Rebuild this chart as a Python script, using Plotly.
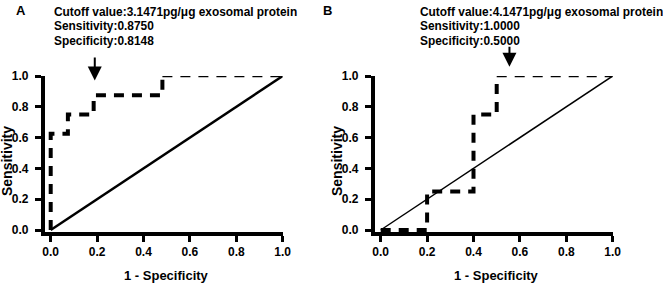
import plotly.graph_objects as go

# ---- data ----
a_fpr = [0, 0, 2/27, 2/27, 5/27, 5/27, 13/27, 13/27]
a_tpr = [0, 0.625, 0.625, 0.75, 0.75, 0.875, 0.875, 1.0]
a_tail_x = [13/27, 1.0]
a_tail_y = [1.0, 1.0]

b_fpr = [0, 0.2, 0.2, 0.4, 0.4, 0.5, 0.5]
b_tpr = [0, 0, 0.25, 0.25, 0.75, 0.75, 1.0]
b_tail_x = [0.5, 1.0]
b_tail_y = [1.0, 1.0]

ref_line = [0, 1]
tick_vals = [0, 0.2, 0.4, 0.6, 0.8, 1.0]
tick_text = ["0.0", "0.2", "0.4", "0.6", "0.8", "1.0"]

a_text = ["Cutoff value:3.1471pg/μg exosomal protein", "Sensitivity:0.8750", "Specificity:0.8148"]
b_text = ["Cutoff value:4.1471pg/μg exosomal protein", "Sensitivity:1.0000", "Specificity:0.5000"]
a_arrow = dict(x=0.19, tip=0.97, tail=1.13)
b_arrow = dict(x=0.555, tip=1.06, tail=1.20)

W, H = 663, 284
FONT = "Liberation Sans, Arial, sans-serif"
Y_RANGE = [-0.013, 1.0]

fig = go.Figure()

def add_panel(xs, ys, tx, ty, diag_w, xa, ya):
    fig.add_trace(go.Scatter(x=ref_line, y=ref_line, mode="lines",
                             line=dict(color="black", width=diag_w),
                             xaxis=xa, yaxis=ya, showlegend=False, cliponaxis=False))
    fig.add_trace(go.Scatter(x=xs, y=ys, mode="lines",
                             line=dict(color="black", width=4, dash="10px,8px"),
                             xaxis=xa, yaxis=ya, showlegend=False, cliponaxis=False))
    fig.add_trace(go.Scatter(x=tx, y=ty, mode="lines",
                             line=dict(color="black", width=2.5, dash="10px,8px"),
                             xaxis=xa, yaxis=ya, showlegend=False, cliponaxis=False))

add_panel(a_fpr, a_tpr, a_tail_x, a_tail_y, 2.5, "x", "y")
add_panel(b_fpr, b_tpr, b_tail_x, b_tail_y, 1.5, "x2", "y2")

def px_x(p):
    return p / W

def px_y(p):
    return (H - p) / H

ydom = [px_y(232), px_y(76)]

def y_to_domain(v):
    return (v - Y_RANGE[0]) / (Y_RANGE[1] - Y_RANGE[0])

axis_common = dict(
    showgrid=False, zeroline=False, showline=True, linecolor="black", linewidth=4,
    ticks="outside", ticklen=6, tickwidth=3, tickcolor="black", automargin=False,
    tickvals=tick_vals, ticktext=tick_text,
    tickfont=dict(family=FONT, size=12, color="black", weight="bold"),
)

fig.update_layout(
    template="none",
    width=W, height=H, margin=dict(l=0, r=0, t=0, b=0, pad=0, autoexpand=False),
    paper_bgcolor="white", plot_bgcolor="white",
    xaxis=dict(domain=[px_x(44.9), px_x(282.7)], range=[-0.025, 1.0], anchor="y", **axis_common),
    yaxis=dict(domain=ydom, range=Y_RANGE, anchor="x", ticklabelstandoff=4, **axis_common),
    xaxis2=dict(domain=[px_x(374.9), px_x(612.7)], range=[-0.025, 1.0], anchor="y2", **axis_common),
    yaxis2=dict(domain=ydom, range=Y_RANGE, anchor="x2", ticklabelstandoff=4, **axis_common),
)

ann = []
# panel letters
for letter, lx in (("A", 21), ("B", 327)):
    ann.append(dict(text="<b>" + letter + "</b>", x=px_x(lx), y=px_y(11), xref="paper", yref="paper",
                    xanchor="center", yanchor="middle", showarrow=False,
                    font=dict(family=FONT, size=13, color="black")))
# info texts
line_y = [12.3, 26, 40.7]
for lines, left in ((a_text, 51.7), (b_text, 418)):
    for t, yy in zip(lines, line_y):
        ann.append(dict(text="<b>" + t + "</b>", x=px_x(left), y=px_y(yy), xref="paper", yref="paper",
                        xanchor="left", yanchor="middle", showarrow=False,
                        font=dict(family=FONT, size=11.9, color="black")))
# arrows (x in data units, y in axis-domain units so they are not hidden above the range)
for arr, xr, yr in ((a_arrow, "x", "y domain"), (b_arrow, "x2", "y2 domain")):
    ann.append(dict(text="", x=arr["x"], y=y_to_domain(arr["tip"]), ax=arr["x"], ay=y_to_domain(arr["tail"]),
                    xref=xr, yref=yr, axref=xr, ayref=yr, showarrow=True,
                    arrowhead=2, arrowsize=1.4, arrowwidth=2, arrowcolor="black", standoff=0))
# axis titles
for cx, vx in ((166.7, 7), (496.7, 337)):
    ann.append(dict(text="<b>1 - Specificity</b>", x=px_x(cx), y=px_y(275), xref="paper", yref="paper",
                    xanchor="center", yanchor="middle", showarrow=False,
                    font=dict(family=FONT, size=13, color="black")))
    ann.append(dict(text="<b>Sensitivity</b>", x=px_x(vx), y=px_y(161), xref="paper", yref="paper",
                    xanchor="center", yanchor="middle", textangle=-90, showarrow=False,
                    font=dict(family=FONT, size=14, color="black")))
fig.update_layout(annotations=ann)

fig.write_html("out.html", config={"displayModeBar": False},
               post_script="document.body.style.margin='0';document.body.style.overflow='hidden';")
